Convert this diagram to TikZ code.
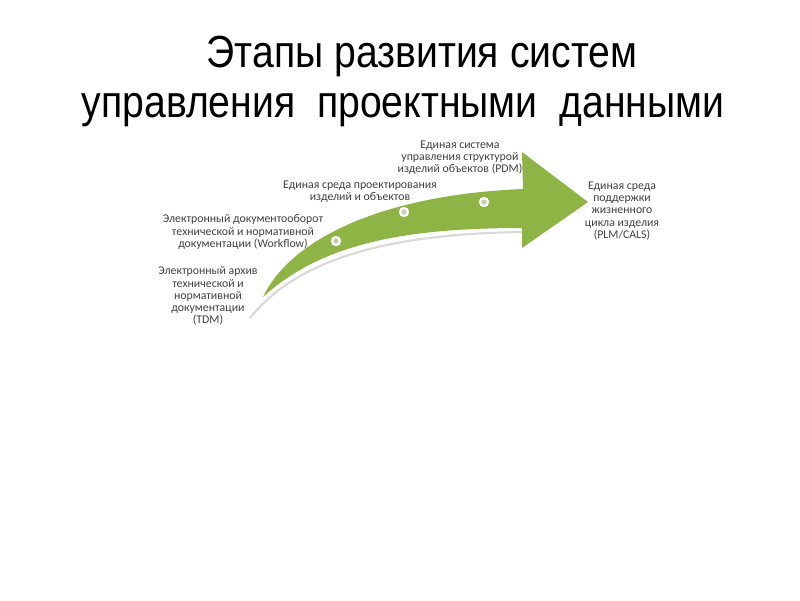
\documentclass[tikz,border=0pt]{standalone}
\usepackage{fontspec}
\setmainfont{Carlito}
\newfontfamily\titlefont[FakeStretch=0.87]{Liberation Sans}
\usetikzlibrary{positioning}
\definecolor{arrowgreen}{RGB}{141,180,68}
\definecolor{labelgray}{RGB}{64,64,64}
\definecolor{dotcore}{RGB}{196,208,176}
\tikzset{
	stage/.style={
		align=center,
		text=labelgray,
		inner sep=0pt,
		font=\fontsize{8.4}{8.6}\selectfont
	},
	heading/.style={
		anchor=base,
		inner sep=0pt,
		font=\titlefont\fontsize{32}{36}\selectfont
	},
	milestone/.style={
		circle,
		fill=dotcore,
		draw=white,
		line width=1.6pt,
		minimum size=0.2cm,
		inner sep=0pt
	}
}

\begin{document}
\begin{tikzpicture}[x=0.025cm,y=-0.025cm]
		\fill[white] (0,0) rectangle (800,600);
		\useasboundingbox (0,0) rectangle (800,600);
		
		\draw node[heading](TitleTop) at (422,67){Этапы развития систем};
		\draw node[heading](TitleBottom) at (403,117){управления\ \ проектными\ \ данными};
		
		% curved arrow
		\draw[gray!30, line width=1.5pt] (250,318) .. controls (295,262) and (380,234) .. (522,232);
		\fill[arrowgreen] (263,297) .. controls (290,240) and (380,195) .. (523,189)
			-- (522,152) -- (588,202) -- (522,248) -- (522,228)
			.. controls (400,228) and (320,245) .. (263,297) -- cycle;
		
		\draw node[milestone](DotA) at (336,241){};
		\draw node[milestone](DotB) at (404,212){};
		\draw node[milestone](DotC) at (484,202){};
		
		\draw node[stage](TDM) at (208,296){Электронный архив\\ технической и\\ нормативной\\ документации\\ (TDM)};
		\draw node[stage](Workflow) at (243,232){Электронный документооборот\\ технической и нормативной\\ документации (Workflow)};
		\draw node[stage](Design) at (360,192){Единая среда проектирования\\ изделий и объектов};
		\draw node[stage](PDM) at (460,158){Единая система\\ управления структурой\\ изделий объектов (PDM)};
		\draw node[stage](PLM) at (622,211){Единая среда\\ поддержки\\ жизненного\\ цикла изделия\\ (PLM/CALS)};
	\end{tikzpicture}
\end{document}
